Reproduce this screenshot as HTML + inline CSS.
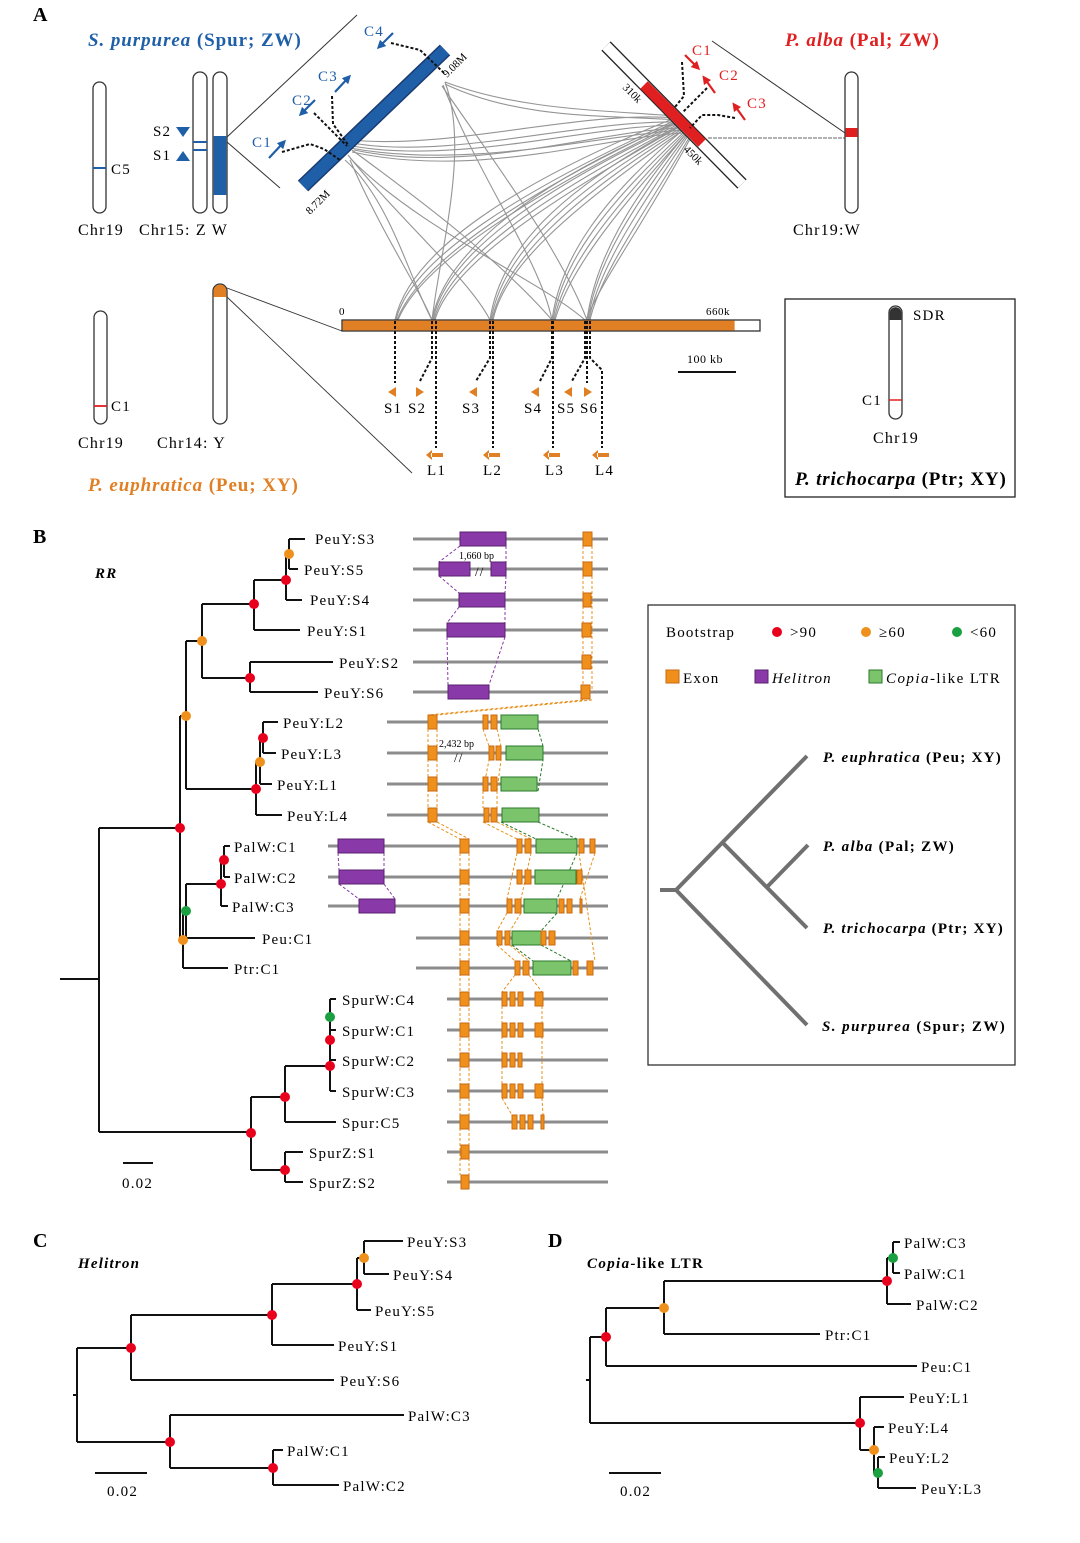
<!DOCTYPE html>
<html><head><meta charset="utf-8"><style>
body{margin:0;background:#fff}
svg{display:block;font-family:"Liberation Serif",serif;letter-spacing:1.2px}
</style></head><body>
<svg width="1080" height="1543" viewBox="0 0 1080 1543" xmlns="http://www.w3.org/2000/svg">
<defs>
<marker id="ab" viewBox="0 0 10 10" refX="5" refY="5" markerWidth="4" markerHeight="4" orient="auto"><path d="M0 0L10 5L0 10z" fill="#1f5fa8"/></marker>
<marker id="ar" viewBox="0 0 10 10" refX="5" refY="5" markerWidth="4" markerHeight="4" orient="auto"><path d="M0 0L10 5L0 10z" fill="#e02020"/></marker>
</defs>
<!-- PANEL A -->
<text x="33" y="21" font-size="20" font-weight="bold">A</text>
<text x="88" y="46" font-size="19" font-weight="bold" fill="#1f5fa8" textLength="214" lengthAdjust="spacing"><tspan font-style="italic">S. purpurea</tspan> (Spur; ZW)</text>
<text x="785" y="46" font-size="19" font-weight="bold" fill="#e02020" textLength="155" lengthAdjust="spacing"><tspan font-style="italic">P. alba</tspan> (Pal; ZW)</text>
<rect x="93" y="82" width="13" height="131" rx="6.5" fill="#fff" stroke="#333" stroke-width="1.3"/>
<line x1="93" y1="168" x2="106" y2="168" stroke="#1f5fa8" stroke-width="2"/>
<text x="111" y="174" font-size="15">C5</text>
<rect x="193" y="72" width="14" height="141" rx="7" fill="#fff" stroke="#333" stroke-width="1.3"/>
<line x1="193" y1="142" x2="207" y2="142" stroke="#1f5fa8" stroke-width="2"/>
<line x1="193" y1="150" x2="207" y2="150" stroke="#1f5fa8" stroke-width="2"/>
<rect x="213" y="72" width="14" height="141" rx="7" fill="#fff" stroke="#333" stroke-width="1.3"/>
<rect x="213.7" y="136" width="12.6" height="59" fill="#1f5fa8"/>
<path d="M176 127h14l-7 10z" fill="#1f5fa8"/><path d="M176 161h14l-7-10z" fill="#1f5fa8"/>
<text x="153" y="136" font-size="15">S2</text><text x="153" y="160" font-size="15">S1</text>
<text x="78" y="235" font-size="16">Chr19</text><text x="139" y="235" font-size="16">Chr15: Z W</text>
<line x1="227" y1="137" x2="357" y2="15" stroke="#333" stroke-width="1"/>
<line x1="227" y1="142" x2="280" y2="188" stroke="#333" stroke-width="1"/>
<g fill="none" stroke="#7a7a7a" stroke-width="1.1" opacity="0.8">
<path d="M352 140C450 150 580 110 676 118"/><path d="M352 143C450 160 580 120 678 122"/><path d="M352 146C460 165 590 125 680 125"/><path d="M354 150C470 175 600 130 682 128"/>
<path d="M350 148C470 170 600 135 684 130"/><path d="M352 152C480 180 610 135 686 133"/>
<path d="M445 82C520 110 600 110 675 116"/><path d="M445 84C520 120 610 115 678 120"/>
<path d="M345 160C390 200 410 280 432 320"/><path d="M348 155C400 220 470 280 490 320"/><path d="M350 158C420 230 540 280 585 320"/>
<path d="M445 82C470 150 440 250 432 320"/><path d="M443 85C480 180 540 260 552 320"/><path d="M442 86C500 170 560 250 587 320"/>
<path d="M675 118C520 180 410 250 395 320"/><path d="M676 120C520 190 410 260 396 320"/><path d="M677 121C530 190 420 260 397 320"/><path d="M677 123C530 195 420 265 398 320"/>
<path d="M678 122C540 180 445 250 432 320"/><path d="M679 124C540 190 445 255 433 320"/><path d="M680 125C545 195 448 260 434 320"/><path d="M681 126C550 200 450 265 435 320"/>
<path d="M680 126C560 190 500 250 490 320"/><path d="M681 128C565 195 502 255 491 320"/><path d="M682 129C570 200 505 260 492 320"/><path d="M683 130C570 210 505 265 493 320"/>
<path d="M683 130C600 200 560 260 552 320"/><path d="M684 132C600 210 562 265 553 320"/><path d="M685 133C605 215 565 270 554 320"/><path d="M686 134C608 220 568 275 555 320"/>
<path d="M686 134C630 200 595 260 587 320"/><path d="M687 135C630 210 596 265 588 320"/><path d="M688 136C635 215 598 270 589 320"/><path d="M689 138C640 220 600 275 590 320"/><path d="M690 139C640 230 602 280 586 320"/>
<path d="M352 150C420 200 500 260 552 320"/><path d="M350 160C380 230 420 290 432 320"/>
</g>
<line x1="303" y1="186" x2="445" y2="50" stroke="#1a3a70" stroke-width="15"/>
<line x1="303" y1="186" x2="445" y2="50" stroke="#1f5fa8" stroke-width="12"/>
<text transform="translate(447,78) rotate(-45)" font-size="11" letter-spacing="0">9.08M</text>
<text transform="translate(310,215) rotate(-45)" font-size="11" letter-spacing="0">8.72M</text>
<g fill="none" stroke="#111" stroke-width="2" stroke-dasharray="3,2">
<path d="M282 152L310 144L324 149L340 160"/><path d="M314 113L347 146"/><path d="M332 96L333 124L349 146"/><path d="M391 43L420 50L444 73"/>
</g>
<g stroke="#1f5fa8" stroke-width="2.2">
<line x1="269" y1="158" x2="283" y2="143" marker-end="url(#ab)"/><line x1="315" y1="100" x2="302" y2="113" marker-end="url(#ab)"/><line x1="335" y1="92" x2="348" y2="78" marker-end="url(#ab)"/><line x1="393" y1="33" x2="380" y2="46" marker-end="url(#ab)"/>
</g>
<text x="252" y="147" font-size="15" fill="#1f5fa8">C1</text><text x="292" y="105" font-size="15" fill="#1f5fa8">C2</text><text x="318" y="81" font-size="15" fill="#1f5fa8">C3</text><text x="364" y="36" font-size="15" fill="#1f5fa8">C4</text>
<line x1="606" y1="46" x2="742" y2="184" stroke="#222" stroke-width="13"/>
<line x1="606" y1="46" x2="742" y2="184" stroke="#fff" stroke-width="10.5"/>
<line x1="644" y1="85" x2="702" y2="143" stroke="#e02020" stroke-width="10.5"/>
<text transform="translate(622,88) rotate(45)" font-size="11" letter-spacing="0">310k</text>
<text transform="translate(683,150) rotate(45)" font-size="11" letter-spacing="0">450k</text>
<g fill="none" stroke="#111" stroke-width="2" stroke-dasharray="3,2">
<path d="M682 62L684 96L675 107"/><path d="M707 88L683 112"/><path d="M735 118L718 115L702 115L690 128"/>
</g>
<g stroke="#e02020" stroke-width="2.2">
<line x1="685" y1="55" x2="697" y2="67" marker-end="url(#ar)"/><line x1="715" y1="93" x2="705" y2="79" marker-end="url(#ar)"/><line x1="745" y1="120" x2="735" y2="106" marker-end="url(#ar)"/>
</g>
<text x="692" y="55" font-size="15" fill="#e02020">C1</text><text x="719" y="80" font-size="15" fill="#e02020">C2</text><text x="747" y="108" font-size="15" fill="#e02020">C3</text>
<line x1="712" y1="41" x2="845" y2="133" stroke="#333" stroke-width="1"/>
<line x1="708" y1="138" x2="845" y2="138" stroke="#333" stroke-width="0.8" stroke-dasharray="4,1"/>
<rect x="845" y="72" width="13" height="141" rx="6.5" fill="#fff" stroke="#333" stroke-width="1.3"/>
<rect x="845.6" y="128" width="11.8" height="9" fill="#e02020"/>
<text x="793" y="235" font-size="16">Chr19:W</text>
<rect x="94" y="311" width="13" height="113" rx="6.5" fill="#fff" stroke="#333" stroke-width="1.3"/>
<line x1="94" y1="406" x2="107" y2="406" stroke="#e02020" stroke-width="1.8"/>
<text x="111" y="411" font-size="15">C1</text>
<rect x="213" y="284" width="14" height="140" rx="7" fill="#fff" stroke="#333" stroke-width="1.3"/>
<path d="M213.6 297V291a6.4 6.4 0 0 1 12.8 0V297z" fill="#e07f24"/>
<text x="78" y="448" font-size="16">Chr19</text><text x="157" y="448" font-size="16">Chr14: Y</text>
<text x="88" y="491" font-size="19" font-weight="bold" fill="#e07f24" textLength="211" lengthAdjust="spacing"><tspan font-style="italic">P. euphratica</tspan> (Peu; XY)</text>
<line x1="227" y1="288" x2="342" y2="331" stroke="#333" stroke-width="0.9"/>
<line x1="227" y1="297" x2="412" y2="473" stroke="#333" stroke-width="0.9"/>
<rect x="342" y="320" width="418" height="11" fill="#fff" stroke="#222" stroke-width="1.2"/>
<rect x="342.6" y="320.6" width="392" height="9.8" fill="#e07f24"/>
<text x="339" y="315" font-size="11">0</text><text x="706" y="315" font-size="11" letter-spacing="0.5">660k</text>
<text x="687" y="363" font-size="12" letter-spacing="0.5">100 kb</text>
<line x1="678" y1="372" x2="736" y2="372" stroke="#111" stroke-width="2"/>
<g fill="none" stroke="#111" stroke-width="2" stroke-dasharray="3,2">
<path d="M395 321V383"/><path d="M432 321V358L420 381"/><path d="M436 321V448"/><path d="M490 321V358L476 381"/><path d="M493 321V448"/>
<path d="M552 321V358L540 381"/><path d="M553 321V448"/><path d="M585 321V358L572 381"/><path d="M587 321V383"/><path d="M590 321V358L602 370V448"/>
</g>
<g fill="#e07f24">
<path d="M396 387L388 392L396 397z"/><path d="M416 387L424 392L416 397z"/><path d="M477 387L469 392L477 397z"/><path d="M539 387L531 392L539 397z"/><path d="M572 387L564 392L572 397z"/><path d="M584 387L592 392L584 397z"/>
<path d="M432 450L426 455L432 460zM431 453h12v4h-12z"/><path d="M489 450L483 455L489 460zM488 453h12v4h-12z"/><path d="M549 450L543 455L549 460zM548 453h12v4h-12z"/><path d="M598 450L592 455L598 460zM597 453h12v4h-12z"/>
</g>
<g font-size="15"><text x="384" y="413">S1</text><text x="408" y="413">S2</text><text x="462" y="413">S3</text><text x="524" y="413">S4</text><text x="557" y="413">S5</text><text x="580" y="413">S6</text>
<text x="427" y="475">L1</text><text x="483" y="475">L2</text><text x="545" y="475">L3</text><text x="595" y="475">L4</text></g>
<rect x="785" y="299" width="230" height="198" fill="none" stroke="#222" stroke-width="1.3"/>
<rect x="889" y="306" width="13" height="113" rx="6.5" fill="#fff" stroke="#333" stroke-width="1.3"/>
<path d="M889.6 320V312a6 6 0 0 1 11.8 0V320z" fill="#333"/>
<line x1="889" y1="400" x2="902" y2="400" stroke="#e02020" stroke-width="1.5"/>
<text x="913" y="320" font-size="15">SDR</text><text x="862" y="405" font-size="15">C1</text><text x="873" y="443" font-size="16">Chr19</text>
<text x="795" y="485" font-size="19" font-weight="bold" textLength="212" lengthAdjust="spacing"><tspan font-style="italic">P. trichocarpa</tspan> (Ptr; XY)</text>

<!-- PANEL B -->
<text x="33" y="543" font-size="20" font-weight="bold">B</text>
<text x="95" y="578" font-size="15" font-weight="bold" font-style="italic">RR</text>
<g fill="none" stroke="#111" stroke-width="2">
<path d="M60 979H99M99 828V1132M99 828H180M99 1132H251"/>
<path d="M180 716V940M180 716H186M180 940H183"/>
<path d="M186 641V789M186 641H202M186 789H256"/>
<path d="M202 604V678M202 604H254M202 678H250"/>
<path d="M254 580V630M254 580H286M254 630H300"/>
<path d="M286 554V600M286 554H289M286 600H302"/>
<path d="M289 539V569M289 539H305M289 569H298"/>
<path d="M250 662V692M250 662H333M250 692H318"/>
<path d="M256 762V815M256 762H260M256 815H282"/>
<path d="M260 738V784M260 738H263M260 784H272"/>
<path d="M263 722V753M263 722H278M263 753H276"/>
<path d="M183 911V968M183 911H186M183 968H228"/>
<path d="M186 884V938M186 884H221M186 938H255"/>
<path d="M221 860V906M221 860H224M221 906H228"/>
<path d="M224 846V877M224 846H230M224 877H230"/>
<path d="M251 1097V1170M251 1097H285M251 1170H285"/>
<path d="M285 1066V1122M285 1066H330M285 1122H336"/>
<path d="M330 999V1091M330 999H336M330 1030H336M330 1060H336M330 1091H336"/>
<path d="M285 1152V1182M285 1152H303M285 1182H303"/>
<path d="M123 1163H153"/>
</g>
<text x="122" y="1188" font-size="15">0.02</text>
<g>
<circle cx="289" cy="554" r="5" fill="#f0901c"/><circle cx="286" cy="580" r="5" fill="#e8001c"/><circle cx="254" cy="604" r="5" fill="#e8001c"/>
<circle cx="250" cy="678" r="5" fill="#e8001c"/><circle cx="202" cy="641" r="5" fill="#f0901c"/><circle cx="186" cy="716" r="5" fill="#f0901c"/>
<circle cx="263" cy="738" r="5" fill="#e8001c"/><circle cx="260" cy="762" r="5" fill="#f0901c"/><circle cx="256" cy="789" r="5" fill="#e8001c"/>
<circle cx="180" cy="828" r="5" fill="#e8001c"/><circle cx="224" cy="860" r="5" fill="#e8001c"/><circle cx="221" cy="884" r="5" fill="#e8001c"/>
<circle cx="186" cy="911" r="5" fill="#1aa040"/><circle cx="183" cy="940" r="5" fill="#f0901c"/>
<circle cx="330" cy="1017" r="5" fill="#1aa040"/><circle cx="330" cy="1040" r="5" fill="#e8001c"/><circle cx="330" cy="1066" r="5" fill="#e8001c"/>
<circle cx="285" cy="1097" r="5" fill="#e8001c"/><circle cx="285" cy="1170" r="5" fill="#e8001c"/><circle cx="251" cy="1133" r="5" fill="#e8001c"/>
</g>
<g font-size="15">
<text x="315" y="544">PeuY:S3</text><text x="304" y="575">PeuY:S5</text><text x="310" y="605">PeuY:S4</text><text x="307" y="636">PeuY:S1</text><text x="339" y="668">PeuY:S2</text><text x="324" y="698">PeuY:S6</text>
<text x="283" y="728">PeuY:L2</text><text x="281" y="759">PeuY:L3</text><text x="277" y="790">PeuY:L1</text><text x="287" y="821">PeuY:L4</text>
<text x="234" y="852">PalW:C1</text><text x="234" y="883">PalW:C2</text><text x="232" y="912">PalW:C3</text><text x="262" y="944">Peu:C1</text><text x="234" y="974">Ptr:C1</text>
<text x="342" y="1005">SpurW:C4</text><text x="342" y="1036">SpurW:C1</text><text x="342" y="1066">SpurW:C2</text><text x="342" y="1097">SpurW:C3</text><text x="342" y="1128">Spur:C5</text><text x="309" y="1158">SpurZ:S1</text><text x="309" y="1188">SpurZ:S2</text>
</g>
<g stroke="#8c8c8c" stroke-width="3">
<path d="M413 539H608M413 569H608M413 600H608M413 630H608M413 662H608M413 692H608"/>
<path d="M387 722H608M387 753H608M387 784H608M387 815H608"/>
<path d="M328 846H608M328 877H608M328 906H608M416 938H608M416 968H608"/>
<path d="M447 999H608M447 1030H608M447 1060H608M447 1091H608M447 1122H608M447 1152H608M447 1182H608"/>
</g>
<g fill="none" stroke-width="1" stroke-dasharray="3,2">
<g stroke="#8a3aa8"><path d="M460 546L439 562M506 546L506 562M439 576L459 593M506 576L505 593M459 607L447 623M505 607L505 623M447 637L448 685M505 637L489 685M338 853L339 870M384 853L384 870M339 884L359 899M384 884L395 899"/></g>
<g stroke="#e8901c"><path d="M583 546V692M592 546V692M583 700L428 715M592 700L437 715M428 729V808M437 729V808M428 822L460 839M437 822L469 839M460 853V1175M469 853V1175"/>
<path d="M483 729L489 746M497 729L501 746M483 791L489 760M497 791L501 760M483 791V808M497 791V808M483 822L517 839M497 822L531 839M517 853L507 899M531 853L521 899M507 913L497 931M521 913L510 931M497 945L515 961M510 945L529 961M515 975L502 992M529 975L542 992M502 1006V1084M542 1006V1084M502 1098L512 1115M542 1098L543 1115M579 853L595 961M595 853L580 899"/></g>
<g stroke="#2a7a2a"><path d="M538 729L543 746M538 791L543 760M538 822L577 839M501 822L536 839M577 853L557 899M557 913L541 931M541 945L571 961M512 945L533 961"/></g>
</g>
<g fill="#8a3aa8" stroke="#5a2070" stroke-width="1">
<rect x="460" y="532" width="46" height="14"/><rect x="439" y="562" width="31" height="14"/><rect x="491" y="562" width="15" height="14"/>
<rect x="459" y="593" width="46" height="14"/><rect x="447" y="623" width="58" height="14"/><rect x="448" y="685" width="41" height="14"/>
<rect x="338" y="839" width="46" height="14"/><rect x="339" y="870" width="45" height="14"/><rect x="359" y="899" width="36" height="14"/>
</g>
<text x="459" y="559" font-size="10" letter-spacing="0">1,660 bp</text><text x="475" y="576" font-size="13">//</text>
<text x="439" y="747" font-size="10" letter-spacing="0">2,432 bp</text><text x="454" y="762" font-size="13">//</text>
<g fill="#7cc46c" stroke="#2a7a2a" stroke-width="1">
<rect x="501" y="715" width="37" height="14"/><rect x="506" y="746" width="37" height="14"/><rect x="501" y="777" width="36" height="14"/><rect x="502" y="808" width="37" height="14"/>
<rect x="536" y="839" width="41" height="14"/><rect x="535" y="870" width="41" height="14"/><rect x="524" y="899" width="33" height="14"/><rect x="512" y="931" width="29" height="14"/><rect x="533" y="961" width="38" height="14"/>
</g>
<g fill="#f0901c" stroke="#c86a10" stroke-width="1">
<rect x="583" y="532" width="9" height="14"/><rect x="583" y="562" width="9" height="14"/><rect x="583" y="593" width="8" height="14"/><rect x="582" y="623" width="9" height="14"/><rect x="582" y="655" width="9" height="14"/><rect x="581" y="685" width="9" height="14"/>
<rect x="428" y="715" width="9" height="14"/><rect x="428" y="746" width="9" height="14"/><rect x="428" y="777" width="9" height="14"/><rect x="428" y="808" width="9" height="14"/>
<rect x="483" y="715" width="5" height="14"/><rect x="491" y="715" width="6" height="14"/><rect x="489" y="746" width="5" height="14"/><rect x="496" y="746" width="5" height="14"/><rect x="483" y="777" width="5" height="14"/><rect x="491" y="777" width="6" height="14"/><rect x="484" y="808" width="5" height="14"/><rect x="491" y="808" width="6" height="14"/>
<rect x="460" y="839" width="9" height="14"/><rect x="460" y="870" width="9" height="14"/><rect x="460" y="899" width="9" height="14"/><rect x="460" y="931" width="9" height="14"/><rect x="460" y="961" width="9" height="14"/>
<rect x="460" y="992" width="9" height="14"/><rect x="460" y="1023" width="9" height="14"/><rect x="460" y="1053" width="9" height="14"/><rect x="460" y="1084" width="9" height="14"/><rect x="460" y="1115" width="9" height="14"/><rect x="461" y="1145" width="8" height="14"/><rect x="461" y="1175" width="8" height="14"/>
<rect x="517" y="839" width="5" height="14"/><rect x="525" y="839" width="6" height="14"/><rect x="579" y="839" width="5" height="14"/><rect x="590" y="839" width="5" height="14"/>
<rect x="517" y="870" width="5" height="14"/><rect x="525" y="870" width="6" height="14"/><rect x="577" y="870" width="5" height="14"/>
<rect x="507" y="899" width="5" height="14"/><rect x="515" y="899" width="6" height="14"/><rect x="559" y="899" width="5" height="14"/><rect x="567" y="899" width="5" height="14"/><rect x="580" y="899" width="2" height="14"/>
<rect x="497" y="931" width="5" height="14"/><rect x="505" y="931" width="5" height="14"/><rect x="541" y="931" width="5" height="14"/><rect x="549" y="931" width="6" height="14"/>
<rect x="515" y="961" width="5" height="14"/><rect x="523" y="961" width="6" height="14"/><rect x="573" y="961" width="5" height="14"/><rect x="587" y="961" width="6" height="14"/>
<rect x="502" y="992" width="5" height="14"/><rect x="510" y="992" width="5" height="14"/><rect x="518" y="992" width="5" height="14"/><rect x="535" y="992" width="8" height="14"/>
<rect x="502" y="1023" width="5" height="14"/><rect x="510" y="1023" width="5" height="14"/><rect x="518" y="1023" width="5" height="14"/><rect x="535" y="1023" width="8" height="14"/>
<rect x="502" y="1053" width="5" height="14"/><rect x="510" y="1053" width="5" height="14"/><rect x="518" y="1053" width="4" height="14"/>
<rect x="502" y="1084" width="5" height="14"/><rect x="510" y="1084" width="5" height="14"/><rect x="518" y="1084" width="5" height="14"/><rect x="535" y="1084" width="8" height="14"/>
<rect x="512" y="1115" width="5" height="14"/><rect x="520" y="1115" width="5" height="14"/><rect x="528" y="1115" width="5" height="14"/><rect x="541" y="1115" width="3" height="14"/>
</g>
<rect x="648" y="605" width="367" height="460" fill="none" stroke="#222" stroke-width="1.2"/>
<text x="666" y="637" font-size="15">Bootstrap</text>
<circle cx="777" cy="632" r="5" fill="#e8001c"/><text x="790" y="637" font-size="15">&gt;90</text>
<circle cx="866" cy="632" r="5" fill="#f0901c"/><text x="879" y="637" font-size="15">≥60</text>
<circle cx="957" cy="632" r="5" fill="#1aa040"/><text x="970" y="637" font-size="15">&lt;60</text>
<rect x="666" y="670" width="13" height="13" fill="#f0901c" stroke="#c86a10"/><text x="683" y="683" font-size="15">Exon</text>
<rect x="755" y="670" width="13" height="13" fill="#8a3aa8" stroke="#5a2070"/><text x="772" y="683" font-size="15" font-style="italic">Helitron</text>
<rect x="869" y="670" width="13" height="13" fill="#7cc46c" stroke="#2a7a2a"/><text x="886" y="683" font-size="15" textLength="115" lengthAdjust="spacing"><tspan font-style="italic">Copia</tspan>-like LTR</text>
<g stroke="#707070" stroke-width="4" fill="none">
<path d="M660 890H676M676 890L807 756M676 890L807 1025M722 842L807 928M766 888L808 845"/>
</g>
<g font-size="15" font-weight="bold">
<text x="823" y="762" textLength="179" lengthAdjust="spacing"><tspan font-style="italic">P. euphratica</tspan> (Peu; XY)</text>
<text x="823" y="851" textLength="132" lengthAdjust="spacing"><tspan font-style="italic">P. alba</tspan> (Pal; ZW)</text>
<text x="823" y="933" textLength="181" lengthAdjust="spacing"><tspan font-style="italic">P. trichocarpa</tspan> (Ptr; XY)</text>
<text x="822" y="1031" textLength="184" lengthAdjust="spacing"><tspan font-style="italic">S. purpurea</tspan> (Spur; ZW)</text>
</g>

<!-- PANEL C -->
<text x="33" y="1247" font-size="20" font-weight="bold">C</text>
<text x="78" y="1268" font-size="15" font-weight="bold" font-style="italic">Helitron</text>
<g fill="none" stroke="#111" stroke-width="2">
<path d="M73 1395H77M77 1348V1442M77 1348H131M77 1442H170"/>
<path d="M131 1315V1380M131 1315H272M131 1380H334"/>
<path d="M272 1284V1345M272 1284H357M272 1345H334"/>
<path d="M357 1258V1310M357 1258H364M357 1310H371"/>
<path d="M364 1241V1274M364 1241H403M364 1274H389"/>
<path d="M170 1415V1468M170 1415H404M170 1468H273"/>
<path d="M273 1450V1485M273 1450H283M273 1485H339"/>
<path d="M95 1473H147"/>
</g>
<circle cx="364" cy="1258" r="5" fill="#f0901c"/><circle cx="357" cy="1284" r="5" fill="#e8001c"/><circle cx="272" cy="1315" r="5" fill="#e8001c"/><circle cx="131" cy="1348" r="5" fill="#e8001c"/><circle cx="170" cy="1442" r="5" fill="#e8001c"/><circle cx="273" cy="1468" r="5" fill="#e8001c"/>
<g font-size="15">
<text x="407" y="1247">PeuY:S3</text><text x="393" y="1280">PeuY:S4</text><text x="375" y="1316">PeuY:S5</text><text x="338" y="1351">PeuY:S1</text><text x="340" y="1386">PeuY:S6</text>
<text x="408" y="1421">PalW:C3</text><text x="287" y="1456">PalW:C1</text><text x="343" y="1491">PalW:C2</text><text x="107" y="1496">0.02</text>
</g>
<!-- PANEL D -->
<text x="548" y="1247" font-size="20" font-weight="bold">D</text>
<text x="587" y="1268" font-size="15" font-weight="bold" textLength="117" lengthAdjust="spacing"><tspan font-style="italic">Copia</tspan>-like LTR</text>
<g fill="none" stroke="#111" stroke-width="2">
<path d="M586 1380H590M590 1337V1423M590 1337H606M590 1423H860"/>
<path d="M606 1308V1366M606 1308H664M606 1366H917"/>
<path d="M664 1281V1334M664 1281H887M664 1334H820"/>
<path d="M887 1258V1304M887 1258H893M887 1304H911"/>
<path d="M893 1242V1273M893 1242H900M893 1273H900"/>
<path d="M860 1397V1450M860 1397H904M860 1450H874"/>
<path d="M874 1427V1473M874 1427H884M874 1473H878"/>
<path d="M878 1457V1488M878 1457H885M878 1488H916"/>
<path d="M609 1473H661"/>
</g>
<circle cx="893" cy="1258" r="5" fill="#1aa040"/><circle cx="887" cy="1281" r="5" fill="#e8001c"/><circle cx="664" cy="1308" r="5" fill="#f0901c"/><circle cx="606" cy="1337" r="5" fill="#e8001c"/>
<circle cx="860" cy="1423" r="5" fill="#e8001c"/><circle cx="874" cy="1450" r="5" fill="#f0901c"/><circle cx="878" cy="1473" r="5" fill="#1aa040"/>
<g font-size="15">
<text x="904" y="1248">PalW:C3</text><text x="904" y="1279">PalW:C1</text><text x="916" y="1310">PalW:C2</text><text x="825" y="1340">Ptr:C1</text><text x="921" y="1372">Peu:C1</text>
<text x="909" y="1403">PeuY:L1</text><text x="888" y="1433">PeuY:L4</text><text x="889" y="1463">PeuY:L2</text><text x="921" y="1494">PeuY:L3</text><text x="620" y="1496">0.02</text>
</g>
</svg>
</body></html>
